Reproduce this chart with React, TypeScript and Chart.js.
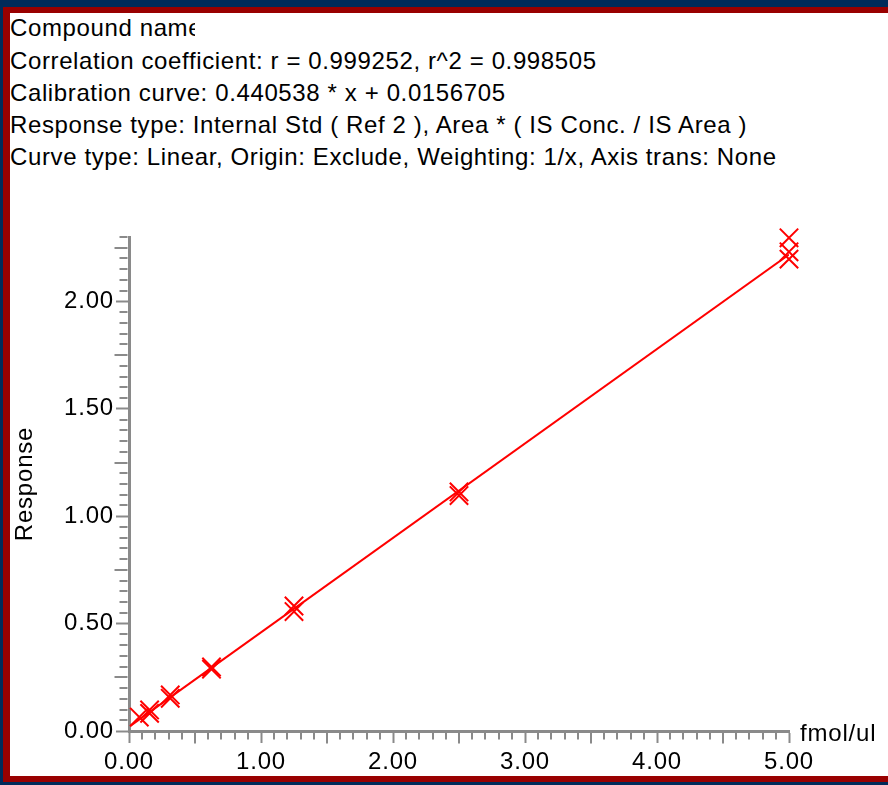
import React, { useEffect, useRef } from "react";
import { Chart, registerables } from "chart.js";

Chart.register(...registerables);

// ---- data ----
const headerLines: string[] = [
  "Compound name",
  "Correlation coefficient: r = 0.999252, r^2 = 0.998505",
  "Calibration curve: 0.440538 * x + 0.0156705",
  "Response type: Internal Std ( Ref 2 ), Area * ( IS Conc. / IS Area )",
  "Curve type: Linear, Origin: Exclude, Weighting: 1/x, Axis trans: None",
];
const xAxisTitle = "fmol/ul";
const yAxisTitle = "Response";

const pointX: number[] = [0.078, 0.156, 0.156, 0.3125, 0.3125, 0.625, 0.625, 1.25, 1.25, 2.5, 2.5, 5.0, 5.0, 5.0];
const pointY: number[] = [0.065, 0.098, 0.082, 0.168, 0.152, 0.298, 0.288, 0.582, 0.556, 1.113, 1.096, 2.296, 2.231, 2.197];

const curveX: number[] = [0.01, 5.0];
const curveY: number[] = [0.024, 2.218];

const xMin = 0, xMax = 5, xStep = 1, xMinorStep = 0.1, xMidStep = 0.5;
const yMin = 0, yMax = 2.3, yStep = 0.5, yMinorStep = 0.05, yMidStep = 0.25;

const FONT = "'Liberation Sans', Arial, sans-serif";
const AXIS = "#8a8a8a";
const RED = "#ff0000";

const minorTicks = {
  id: "minorTicks",
  beforeDraw(chart: any) {
    chart.ctx.letterSpacing = "0.8px";
  },
  afterDraw(chart: any) {
    const ctx = chart.ctx;
    const xs = chart.scales.x;
    const ys = chart.scales.y;
    ctx.save();
    ctx.strokeStyle = AXIS;
    ctx.lineWidth = 2;
    const ax = xs.left;
    const ay = ys.bottom;
    const ny = Math.round((yMax - yMin) / yMinorStep);
    for (let i = 0; i <= ny; i++) {
      const v = yMin + i * yMinorStep;
      const isMajor = Math.abs(v / yStep - Math.round(v / yStep)) < 1e-6;
      if (isMajor) continue;
      const isMid = Math.abs(v / yMidStep - Math.round(v / yMidStep)) < 1e-6;
      const py = Math.round(ys.getPixelForValue(v));
      const len = isMid ? 13 : 8;
      ctx.beginPath();
      ctx.moveTo(ax - 1.5 - len, py);
      ctx.lineTo(ax - 1.5, py);
      ctx.stroke();
    }
    const nx = Math.round((xMax - xMin) / xMinorStep);
    for (let i = 0; i <= nx; i++) {
      const v = xMin + i * xMinorStep;
      const isMajor = Math.abs(v / xStep - Math.round(v / xStep)) < 1e-6;
      if (isMajor) continue;
      const isMid = Math.abs(v / xMidStep - Math.round(v / xMidStep)) < 1e-6;
      const px = Math.round(xs.getPixelForValue(v));
      const len = isMid ? 11 : 7;
      ctx.beginPath();
      ctx.moveTo(px, ay + 1.5);
      ctx.lineTo(px, ay + 1.5 + len);
      ctx.stroke();
    }
    ctx.fillStyle = "#000";
    ctx.font = `24px ${FONT}`;
    ctx.textAlign = "left";
    ctx.textBaseline = "alphabetic";
    ctx.fillText(xAxisTitle, xs.right + 11, ys.getPixelForValue(0) + 10);
    ctx.restore();
  },
};

export default function App() {
  const ref = useRef<HTMLCanvasElement>(null);
  useEffect(() => {
    if (!ref.current) return;
    const chart = new Chart(ref.current, {
      type: "scatter",
      data: {
        datasets: [
          {
            type: "line",
            data: curveX.map((x, i) => ({ x, y: curveY[i] })),
            borderColor: RED,
            borderWidth: 2,
            pointRadius: 0,
            fill: false,
          } as any,
          {
            type: "scatter",
            data: pointX.map((x, i) => ({ x, y: pointY[i] })),
            pointStyle: "crossRot",
            pointRadius: 13,
            borderColor: RED,
            backgroundColor: RED,
            pointBorderWidth: 2,
            borderWidth: 2,
            clip: false,
          } as any,
        ],
      },
      options: {
        responsive: false,
        animation: false,
        events: [],
        layout: { padding: { left: 0, top: 237, right: 99, bottom: 0 } },
        plugins: { legend: { display: false }, tooltip: { enabled: false }, title: { display: false } },
        scales: {
          x: {
            type: "linear",
            min: xMin,
            max: xMax,
            afterFit: (s: any) => { s.height = 54; },
            afterBuildTicks: (s: any) => {
              const t = [];
              for (let v = xMin; v <= xMax + 1e-9; v += xStep) t.push({ value: v });
              s.ticks = t;
            },
            ticks: {
              callback: (v: any) => Number(v).toFixed(2),
              color: "#000",
              font: { family: FONT, size: 24 },
              padding: 5,
              maxRotation: 0,
              autoSkip: false,
            },
            grid: { drawOnChartArea: false, drawTicks: true, tickLength: 12, tickWidth: 2, tickColor: AXIS },
            border: { display: true, color: AXIS, width: 3 },
          },
          y: {
            type: "linear",
            min: yMin,
            max: yMax,
            afterFit: (s: any) => { s.width = 129; },
            afterBuildTicks: (s: any) => {
              const t = [];
              for (let v = yMin; v <= yMax + 1e-9; v += yStep) t.push({ value: v });
              s.ticks = t;
            },
            ticks: {
              callback: (v: any) => Number(v).toFixed(2),
              color: "#000",
              font: { family: FONT, size: 24 },
              padding: 2,
              autoSkip: false,
            },
            title: {
              display: true,
              text: yAxisTitle,
              color: "#000",
              font: { family: FONT, size: 24, lineHeight: 1.2 },
              padding: { top: 11, bottom: 0 },
            },
            grid: { drawOnChartArea: false, drawTicks: true, tickLength: 13, tickWidth: 2, tickColor: AXIS },
            border: { display: true, color: AXIS, width: 3 },
          },
        },
      },
      plugins: [minorTicks],
    } as any);
    return () => chart.destroy();
  }, []);

  return (
    <div style={{ position: "fixed", left: 0, top: 0, width: 888, height: 785, background: "#002b5a", overflow: "hidden" }}>
      <div style={{ position: "absolute", left: 3, top: 7, width: 900, height: 775, background: "#990000" }} />
      <div style={{ position: "absolute", left: 10, top: 13, width: 900, height: 763, background: "#ffffff" }} />
      <div
        style={{
          position: "absolute",
          left: 10,
          top: 12.4,
          fontFamily: FONT,
          fontSize: 24,
          lineHeight: "32.2px",
          letterSpacing: "0.62px",
          color: "#000",
          whiteSpace: "nowrap",
        }}
      >
        {headerLines.map((l, i) => (
          <div key={i} style={i === 0 ? { width: 185, overflow: "hidden" } : undefined}>{l}</div>
        ))}
      </div>
      <canvas ref={ref} width={888} height={785} style={{ position: "absolute", left: 0, top: 0 }} />
    </div>
  );
}
